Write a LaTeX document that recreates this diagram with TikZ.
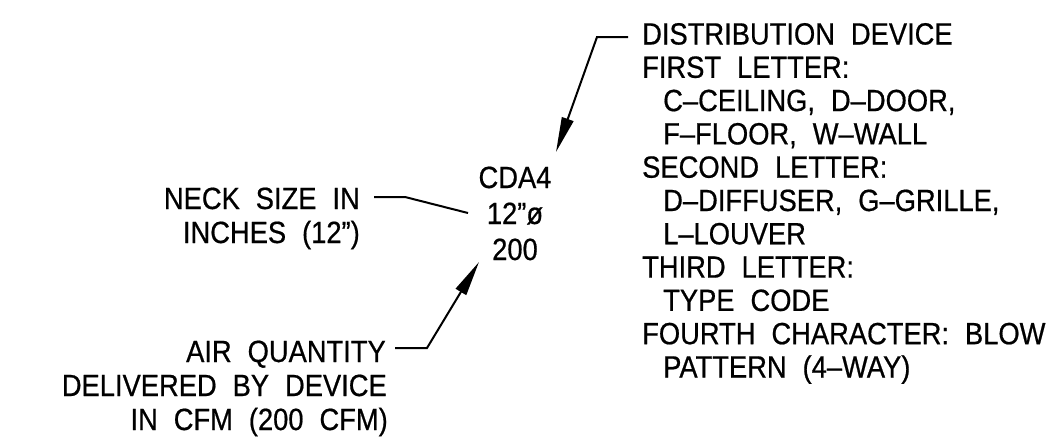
\documentclass[tikz,border=0pt]{standalone}
\usepackage{fontspec}
\setmainfont{Liberation Sans}[FakeStretch=0.89, WordSpace=2.1, FakeBold=0.6]
\usetikzlibrary{arrows.meta}
\begin{document}
\begin{tikzpicture}[x=1pt,y=-1pt,
  lbl/.style={inner sep=0pt, font=\fontsize{30.7}{33}\selectfont},
  rl/.style={lbl, anchor=base west},
  ll/.style={lbl, anchor=base east},
  cl/.style={lbl, anchor=base},
  leader/.style={line width=2pt},
  arr/.style={leader, -{Triangle[length=35pt, width=12pt]}}]
\useasboundingbox (0,0) rectangle (1050,442);
% right block
\node[rl] (r1)  at (642,44.5)  {DISTRIBUTION DEVICE};
\node[rl] (r2)  at (642,77.8)  {FIRST LETTER:};
\node[rl] (r3)  at (663,111.1) {C–CEILING, D–DOOR,};
\node[rl] (r4)  at (663,144.4) {F–FLOOR, W–WALL};
\node[rl] (r5)  at (642,177.7) {SECOND LETTER:};
\node[rl] (r6)  at (663,211)   {D–DIFFUSER, G–GRILLE,};
\node[rl] (r7)  at (663,244.3) {L–LOUVER};
\node[rl] (r8)  at (642,277.6) {THIRD LETTER:};
\node[rl] (r9)  at (663,310.9) {TYPE CODE};
\node[rl] (r10) at (642,344.2) {FOURTH CHARACTER: BLOW};
\node[rl] (r11) at (663,377.5) {PATTERN (4–WAY)};
% centre tag
\node[cl] (c1) at (515,188) {CDA4};
\node[cl] (c2) at (515,224) {12”ø};
\node[cl] (c3) at (515,260) {200};
% left blocks
\node[ll] (n1) at (360,209) {NECK SIZE IN};
\node[ll] (n2) at (360,243) {INCHES (12”)};
\node[ll] (a1) at (386,362) {AIR QUANTITY};
\node[ll] (a2) at (387,396) {DELIVERED BY DEVICE};
\node[ll] (a3) at (388,430) {IN CFM (200 CFM)};
% leader points
\coordinate (dA) at (628,37);
\coordinate (dB) at (597,37);
\coordinate (dT) at (556,152);
\coordinate (nA) at (374,197);
\coordinate (nB) at (405,197);
\coordinate (nT) at (468,213);
\coordinate (qA) at (395,348);
\coordinate (qB) at (427,348);
\coordinate (qT) at (479,262);
\draw[arr] (dA) -- (dB) -- (dT);
\draw[leader] (nA) -- (nB) -- (nT);
\draw[arr] (qA) -- (qB) -- (qT);
\end{tikzpicture}
\end{document}
